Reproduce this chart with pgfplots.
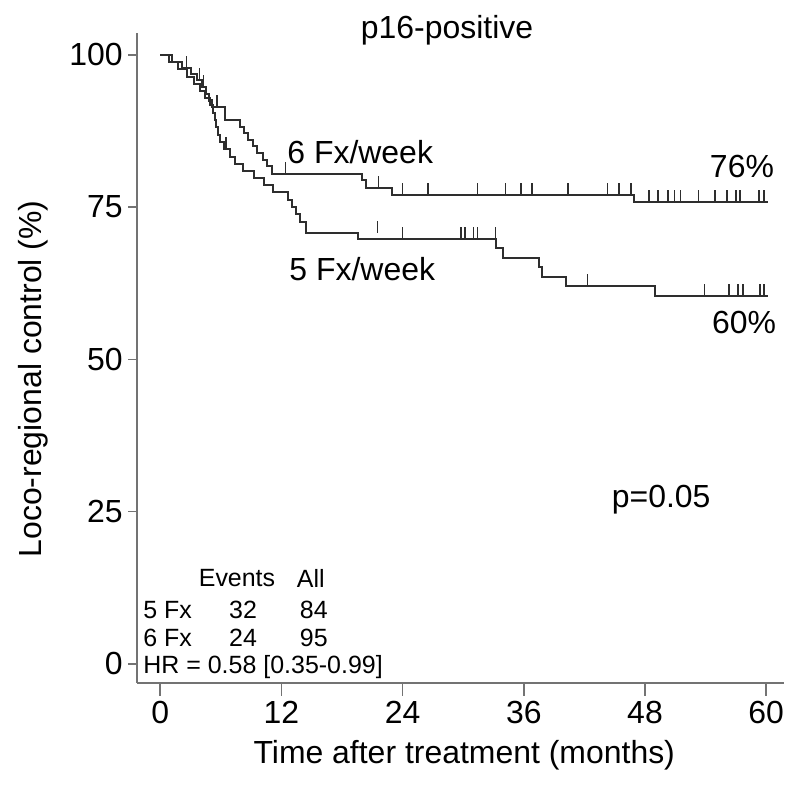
\documentclass[border=0pt]{standalone}
\usepackage{pgfplots}
\pgfplotsset{compat=1.18}
\usepackage{fontspec}
\setmainfont{Liberation Sans}
\pgfdeclareplotmark{cens}{%
  \pgfpathmoveto{\pgfqpoint{0pt}{0pt}}%
  \pgfpathlineto{\pgfqpoint{0pt}{2\pgfplotmarksize}}%
  \pgfusepathqstroke}
\definecolor{curve}{gray}{0.18}
\definecolor{axisgray}{gray}{0.45}
\newcommand{\bigf}{\fontsize{32}{38}\selectfont}
\newcommand{\smallf}{\fontsize{25}{30}\selectfont}
\begin{document}
\begin{tikzpicture}
\begin{axis}[
  scale only axis, width=646bp, height=648bp,
  xmin=-2.3, xmax=61.8, ymin=-3.1, ymax=103.5,
  axis lines=left,
  axis line style={-, draw=axisgray, line width=2.2bp},
  xtick={0,12,24,36,48,60}, ytick={0,25,50,75,100},
  tick align=outside,
  tick style={draw=axisgray, line width=1.6bp},
  xtick style={/pgfplots/major tick length=13bp},
  ytick style={/pgfplots/major tick length=9bp},
  ticklabel style={font=\bigf},
  /pgf/number format/assume math mode=true,
  yticklabel style={inner sep=2bp, xshift=-8bp},
  xticklabel style={inner sep=3bp, yshift=-11bp},
  clip=false,
]
\addplot[const plot, draw=curve, line width=2bp] coordinates {
(0,100) (1.2,98.9) (2.2,97.9) (3.0,96.8) (3.6,95.8) (4.1,94.7) (4.5,93.6) (4.8,92.5) (5.1,91.4) (6.4,89.3) (7.9,88.2) (8.3,87.1) (8.7,86.0) (9.2,85.0) (9.6,83.9) (10.2,82.8) (10.6,81.7) (11.1,80.5) (20.0,79.4) (20.4,78.2) (22.9,77.0) (46.9,75.8) (60.2,75.8)};
\addplot[const plot, draw=curve, line width=2bp] coordinates {
(0,100) (0.9,98.8) (1.8,97.6) (2.6,96.4) (3.3,95.2) (3.9,94.0) (4.4,92.9) (4.9,91.7) (5.2,90.5) (5.4,89.3) (5.5,88.1) (5.7,86.9) (5.9,85.7) (6.3,84.5) (6.9,83.3) (7.4,82.1) (8.2,81.0) (9.3,79.8) (10.3,78.6) (11.2,77.4) (12.6,76.2) (13.0,75.0) (13.4,73.8) (13.8,72.6) (14.4,70.8) (19.6,69.7) (33.2,68.3) (33.9,66.7) (37.5,65.1) (37.8,63.6) (40.2,62.1) (49.0,60.4) (60.2,60.4)};
% censoring ticks
\addplot[only marks, mark=cens, mark size=6bp, mark options={draw=curve, line width=1.6bp}] coordinates {
(2.6,97.9) (3.9,95.8) (4.3,94.7) (5.6,91.4) (12.4,80.5) (21.6,78.2) (24.0,77.0) (26.5,77.0) (31.4,77.0) (34.2,77.0) (35.7,77.0) (36.8,77.0) (40.4,77.0) (44.3,77.0) (45.4,77.0) (46.6,77.0) (48.4,75.8) (49.3,75.8) (50.3,75.8) (50.9,75.8) (51.5,75.8) (53.3,75.8) (54.9,75.8) (56.1,75.8) (57.0,75.8) (57.4,75.8) (59.3,75.8) (59.8,75.8)};
\addplot[only marks, mark=cens, mark size=6bp, mark options={draw=curve, line width=1.6bp}] coordinates {
(6.5,84.5) (21.5,70.8) (24.0,69.7) (29.8,69.7) (30.2,69.7) (31.0,69.7) (31.4,69.7) (33.2,69.7) (42.3,62.1) (53.9,60.4) (56.3,60.4) (57.2,60.4) (57.7,60.4) (59.4,60.4) (59.8,60.4)};
% texts
\node[font=\bigf] at (axis cs:28.4,104.1) {p16-positive};
\node[font=\bigf] at (axis cs:19.8,84.1) {6 Fx/week};
\node[font=\bigf] at (axis cs:20.0,64.9) {5 Fx/week};
\node[font=\bigf] at (axis cs:57.6,81.6) {76\%};
\node[font=\bigf] at (axis cs:57.8,56.0) {60\%};
\node[font=\bigf] at (axis cs:49.6,26.9) {p=0.05};
\node[font=\bigf] at (axis cs:30.1,-15.0) {Time after treatment (months)};
\node[font=\bigf, rotate=90] at (axis cs:-12.6,46.8) {Loco-regional control (\%)};
\node[font=\smallf] at (axis cs:7.6,14.1) {Events};
\node[font=\smallf] at (axis cs:14.9,14.1) {All};
\node[font=\smallf, anchor=west, inner sep=0pt] at (axis cs:-1.69,8.9) {5 Fx};
\node[font=\smallf] at (axis cs:8.2,8.9) {32};
\node[font=\smallf] at (axis cs:15.2,8.9) {84};
\node[font=\smallf, anchor=west, inner sep=0pt] at (axis cs:-1.69,4.3) {6 Fx};
\node[font=\smallf] at (axis cs:8.2,4.3) {24};
\node[font=\smallf] at (axis cs:15.2,4.3) {95};
\node[font=\smallf, anchor=west, inner sep=0pt] at (axis cs:-1.69,-0.5) {HR = 0.58 [0.35-0.99]};
\coordinate (bl) at (axis cs:-15.87,-20.2);
\coordinate (tr) at (axis cs:61.8,109.0);
\end{axis}
\pgfresetboundingbox
\path (bl) rectangle (tr);
\end{tikzpicture}
\end{document}
